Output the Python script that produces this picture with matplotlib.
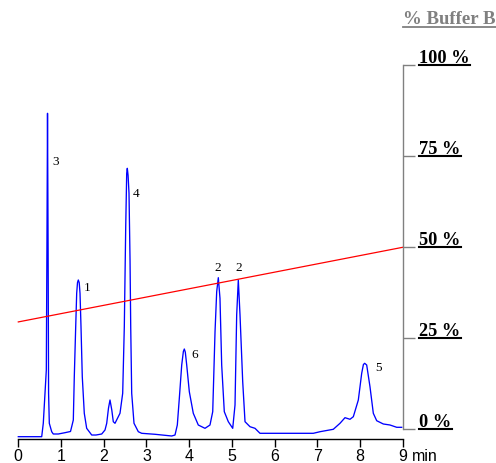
import matplotlib
matplotlib.use("Agg")
import matplotlib.pyplot as plt
from matplotlib.lines import Line2D
from matplotlib.transforms import offset_copy, IdentityTransform

# chromatogram trace (time in min, signal in %-scale units)
trace_time = [0.000, 0.548, 0.585, 0.625, 0.656, 0.670, 0.684, 0.698, 0.709, 0.726,
              0.782, 0.819, 0.937, 1.093, 1.222, 1.250, 1.288, 1.311, 1.344, 1.367,
              1.386, 1.405, 1.426, 1.445, 1.468, 1.498, 1.545, 1.601, 1.719, 1.819,
              1.953, 2.030, 2.070, 2.112, 2.147, 2.189, 2.224, 2.264, 2.381, 2.444,
              2.482, 2.515, 2.538, 2.552, 2.570, 2.592, 2.616, 2.632, 2.655, 2.709,
              2.810, 2.889, 3.201, 3.592, 3.669, 3.723, 3.770, 3.826, 3.865, 3.887,
              3.910, 3.943, 4.004, 4.097, 4.214, 4.371, 4.488, 4.552, 4.606, 4.645,
              4.683, 4.722, 4.762, 4.823, 4.917, 5.020, 5.074, 5.113, 5.151, 5.191,
              5.254, 5.308, 5.425, 5.542, 5.659, 6.907, 7.064, 7.375, 7.532, 7.649,
              7.766, 7.844, 7.961, 8.040, 8.080, 8.110, 8.157, 8.234, 8.312, 8.391,
              8.546, 8.703, 8.860, 8.977]
trace_signal = [-2.03, -2.03, 1.65, 9.89, 16.29, 49.26, 86.81, 49.26, 9.89, 1.65,
                -0.66, -1.29, -1.29, -0.93, -0.60, 0.71, 2.55, 14.45, 28.19, 37.36,
                40.30, 41.02, 40.30, 37.36, 28.19, 14.45, 4.40, 0.27, -1.57, -1.57,
                -1.29, -0.19, 1.65, 5.85, 8.05, 5.30, 2.09, 1.65, 4.40, 9.89,
                28.19, 55.66, 70.33, 71.70, 69.80, 64.84, 46.51, 28.19, 9.89, 1.65,
                -0.66, -1.10, -1.37, -1.84, -1.57, 1.18, 8.52, 17.66, 21.40, 22.06,
                21.20, 17.66, 10.33, 4.40, 1.18, 0.27, 1.18, 4.84, 26.81, 37.80,
                41.65, 35.99, 17.66, 4.84, 2.09, 0.27, 6.68, 31.40, 41.02, 31.40,
                13.08, 2.09, 0.71, 0.27, -1.10, -1.10, -0.66, 0.00, 1.65, 3.19,
                2.75, 3.46, 8.05, 15.38, 17.80, 18.13, 17.66, 11.70, 4.40, 2.36,
                1.46, 1.18, 0.55, 0.55]

# % Buffer B gradient
gradient_time = [0, 9]
gradient_pct = [29.5, 50]

# peak labels
peak_labels = ["3", "1", "4", "6", "2", "2", "5"]
label_time = [0.871, 1.620, 2.763, 4.137, 4.676, 5.160, 8.441]
label_signal = [73.5, 38.7, 64.7, 20.5, 44.3, 44.3, 16.8]

x_ticks = [0, 1, 2, 3, 4, 5, 6, 7, 8, 9]
pct_ticks = [0, 25, 50, 75, 100]
pct_labels = ["0 %", "25 %", "50 %", "75 %", "100 %"]

W, H = 496, 463
fig = plt.figure(figsize=(W / 100, H / 100), dpi=100)
ax = fig.add_axes([18.3 / W, 1 - 439.3 / H, (402.7 - 18.3) / W, (439.3 - 65.3) / H])
ax.set_xlim(0, 9)
ax.set_ylim(-2.747, 100)

ax.plot(trace_time, trace_signal, color="#0000ff", lw=0.95, clip_on=False)
ax.plot(gradient_time, gradient_pct, color="#ff0000", lw=0.9, clip_on=False)

for lab, t, s in zip(peak_labels, label_time, label_signal):
    ax.text(t, s, lab, ha="center", va="center", fontsize=9.5,
            family="Liberation Serif")

for side in ["left", "top"]:
    ax.spines[side].set_visible(False)
ax.spines["bottom"].set_linewidth(1)
ax.spines["right"].set_color("#808080")
ax.spines["right"].set_bounds(0, 100)
ax.spines["right"].set_linewidth(1)

ax.set_xticks(x_ticks)
ax.set_xticklabels([str(v) for v in x_ticks], family="Liberation Sans", fontsize=11.5)
ax.tick_params(axis="x", direction="out", length=5.5, width=1, pad=1.5)
ax.yaxis.tick_right()
ax.set_yticks(pct_ticks)
ax.set_yticklabels([])
ax.tick_params(axis="y", direction="out", length=8.5, width=1, color="#808080")

# "min" after the last tick
ax.text(9, 0, "min", transform=offset_copy(ax.get_xaxis_transform(), fig=fig, x=9, y=-22, units="dots"),
        ha="left", va="baseline", family="Liberation Sans", fontsize=11.5)

# right-hand % labels, bold serif, underlined
lab_trans = offset_copy(ax.transData, fig=fig, x=16.8, y=2.6, units="dots")
pct_texts = []
for p, lab in zip(pct_ticks, pct_labels):
    pct_texts.append(ax.text(9, p, lab, transform=lab_trans, ha="left", va="baseline",
                             fontsize=13.2, fontweight="bold", family="Liberation Serif"))

title = fig.text(403.3 / W, 1 - 23.5 / H, "% Buffer B", ha="left", va="baseline",
                 fontsize=13.5, fontweight="bold", family="Liberation Serif", color="#808080")

fig.canvas.draw()
r = fig.canvas.get_renderer()
for p, t in zip(pct_ticks, pct_texts):
    bb = t.get_window_extent(r)
    y = ax.transData.transform((9, p))[1]
    fig.add_artist(Line2D([bb.x0, bb.x1], [y, y], color="black", lw=1.5,
                          transform=IdentityTransform()))
bb = title.get_window_extent(r)
y = H - 26.7
fig.add_artist(Line2D([bb.x0, bb.x1], [y, y], color="#808080", lw=1.3,
                      transform=IdentityTransform()))

fig.savefig("out.png", dpi=100)
